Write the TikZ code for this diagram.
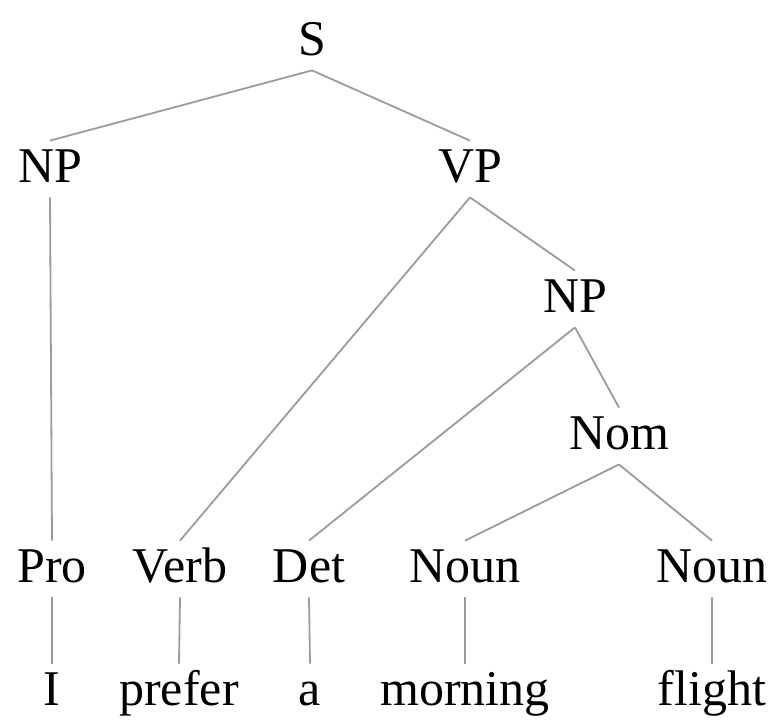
\documentclass[tikz,border=0pt]{standalone}
\usepackage{fontspec}
\setmainfont{Liberation Serif}
\definecolor{edgegray}{RGB}{155,155,155}
\begin{document}
\begin{tikzpicture}[x=0.5pt,y=-0.5pt,
  lbl/.style={anchor=base,inner xsep=0pt,inner ysep=3pt,font=\fontsize{25}{30}\selectfont,
              text height=17.5pt,text depth=4.5pt},
  edge/.style={draw=edgegray,line width=0.9pt}]
\useasboundingbox (0,0) rectangle (769,720);
% nonterminals
\node[lbl] (S)    at (312,55)  {S};
\node[lbl] (NPa)  at (50,182)  {NP};
\node[lbl] (VP)   at (470,182) {VP};
\node[lbl] (NPb)  at (575,312) {NP};
\node[lbl] (Nom)  at (619,449) {Nom};
% preterminals
\node[lbl] (Pro)  at (52,582)  {Pro};
\node[lbl] (Verb) at (180,582) {Verb};
\node[lbl] (Det)  at (309,582) {Det};
\node[lbl] (N1)   at (465,582) {Noun};
\node[lbl] (N2)   at (712,582) {Noun};
% words
\node[lbl] (wI)   at (52,705)  {I};
\node[lbl] (wpre) at (179,705) {prefer};
\node[lbl] (wa)   at (310,705) {a};
\node[lbl] (wmor) at (465,705) {morning};
\node[lbl] (wfl)  at (712,705) {flight};
% edges
\draw[edge] (S.south) -- (NPa.north);
\draw[edge] (S.south) -- (VP.north);
\draw[edge] (NPa.south) -- (Pro.north);
\draw[edge] (VP.south) -- (Verb.north);
\draw[edge] (VP.south) -- (NPb.north);
\draw[edge] (NPb.south) -- (Det.north);
\draw[edge] (NPb.south) -- (Nom.north);
\draw[edge] (Nom.south) -- (N1.north);
\draw[edge] (Nom.south) -- (N2.north);
\draw[edge] (Pro.south) -- (wI.north);
\draw[edge] (Verb.south) -- (wpre.north);
\draw[edge] (Det.south) -- (wa.north);
\draw[edge] (N1.south) -- (wmor.north);
\draw[edge] (N2.south) -- (wfl.north);
\end{tikzpicture}
\end{document}
